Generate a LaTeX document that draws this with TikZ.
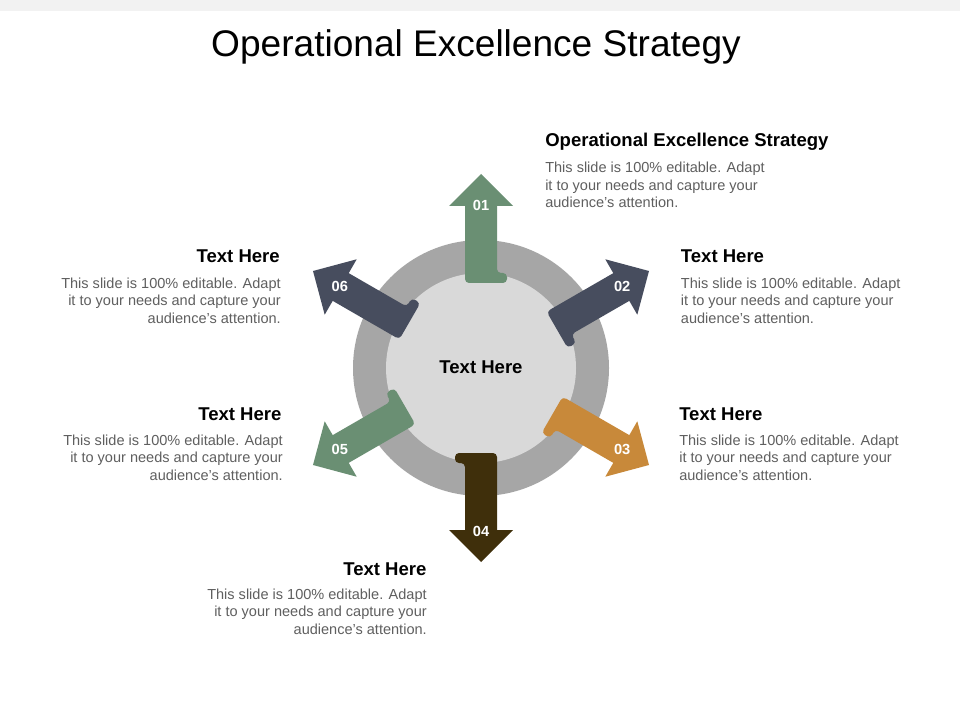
\documentclass[tikz,border=0pt]{standalone}
\usepackage{fontspec}
\setmainfont{Liberation Sans}
\definecolor{bandgray}{HTML}{F2F2F2}
\definecolor{ringgray}{HTML}{A6A6A6}
\definecolor{innergray}{HTML}{D9D9D9}
\definecolor{bodygray}{HTML}{5F5F5F}
\definecolor{grn}{HTML}{6A8F73}
\definecolor{slate}{HTML}{474D5E}
\definecolor{ochre}{HTML}{C8893A}
\definecolor{brown}{HTML}{3F2F0B}
\newcommand{\bodytext}{This slide is 100\% editable. Adapt\\ it to your needs and capture your\\ audience's attention.}
\begin{document}
\begin{tikzpicture}[x=0.75pt,y=0.75pt,
    head/.style={font=\fontsize{13.9}{16}\selectfont\bfseries, inner sep=0},
    body/.style={font=\fontsize{10.9}{13.1}\selectfont, text=bodygray, inner sep=0},
    num/.style={font=\fontsize{11}{13}\selectfont\bfseries, text=white, inner sep=0}]
  \useasboundingbox (0,0) rectangle (960,-720);
  \fill[white] (0,0) rectangle (960,-720);
  \fill[bandgray] (0,0) rectangle (960,-10.7);
  \node[font=\fontsize{27.8}{33}\selectfont, anchor=base, inner sep=0] (title) at (476,-57) {Operational Excellence Strategy};

  % ring
  \fill[ringgray] (481,-368) circle (128);
  \fill[innergray] (481,-368) circle (95);
  \node[head, anchor=base] (centre) at (481,-373) {Text Here};

  \foreach \ang/\col/\num in {90/grn/01,30/slate/02,-30/ochre/03,-90/brown/04,-150/grn/05,150/slate/06} {
    \begin{scope}[shift={(481,-368)}, rotate=\ang]
      \fill[\col] (162,16) -- (162,32) -- (194,0) -- (162,-32) -- (162,-16)
        [rounded corners=3] -- (95,-16) -- (95,-26) -- (85,-26) -- (85,16) [sharp corners] -- cycle;
    \end{scope}
    \node[num] (n\num) at ([shift={(\ang:163)}]481,-368) {\num};
  }

  % texts (body anchored at its last baseline)
  \node[head, anchor=base west] (h01) at (545,-146.7) {Operational Excellence Strategy};
  \node[body, align=left, anchor=base west] (b01) at (545,-207.7) {\bodytext};
  \node[head, anchor=base west] (h02) at (680.7,-262.7) {Text Here};
  \node[body, align=left, anchor=base west] (b02) at (680.7,-323) {\bodytext};
  \node[head, anchor=base west] (h03) at (679,-420) {Text Here};
  \node[body, align=left, anchor=base west] (b03) at (679,-480) {\bodytext};
  \node[head, anchor=base east] (h04) at (426.7,-575) {Text Here};
  \node[body, align=right, anchor=base east] (b04) at (427,-634) {\bodytext};
  \node[head, anchor=base east] (h05) at (281.7,-420) {Text Here};
  \node[body, align=right, anchor=base east] (b05) at (283,-480) {\bodytext};
  \node[head, anchor=base east] (h06) at (280,-262.7) {Text Here};
  \node[body, align=right, anchor=base east] (b06) at (281,-323) {\bodytext};
\end{tikzpicture}
\end{document}
